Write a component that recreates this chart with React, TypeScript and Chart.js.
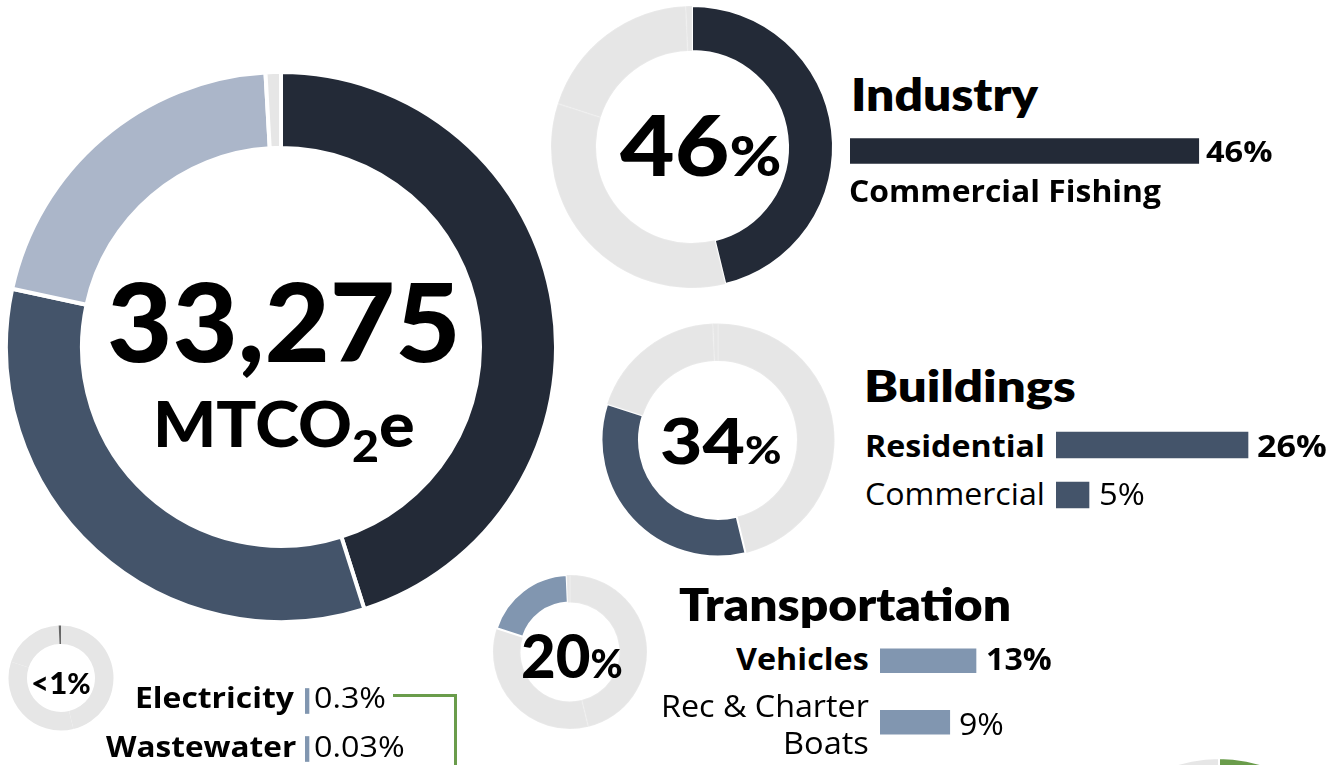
import React, { useEffect, useRef } from 'react';
import { Chart, registerables } from 'chart.js';

Chart.register(...registerables);

// ---------- data ----------
const sectorNames = ['Industry', 'Buildings', 'Transportation', 'Other'];
// shares as drawn in the large overview ring
const overviewShares = [45.1, 33.3, 20.7, 0.9];
// shares as drawn in the small per-sector rings
const sectorShares = [46.2, 33.8, 19.3, 0.7];
const sectorColors = ['#232a37', '#44546a', '#abb6c9', '#e6e6e6'];
const sectorHighlight = ['#232a37', '#44546a', '#8196b0', '#666666'];
const sectorPctText = ['46', '34', '20', '<1'];

const industryCats = ['Commercial Fishing'];
const industryVals = [46.5];
const industryText = ['46%'];

const buildingCats = ['Residential', 'Commercial'];
const buildingVals = [25.6, 4.4];
const buildingText = ['26%', '5%'];

const transportCats = ['Vehicles', 'Rec & Charter Boats'];
const transportVals = [12.8, 9.3];
const transportText = ['13%', '9%'];

const otherCats = ['Electricity', 'Wastewater'];
const otherVals = [0.3, 0.03];
const otherText = ['0.3%', '0.03%'];

const sinkNames = ['Sequestration', 'Rest'];
const sinkShares = [25, 75];

const TOTAL_TEXT = '33,275';

// ---------- style constants ----------
const GRAY = '#e6e6e6';
const GREEN = '#6a9c4b';
const BAR_BLUE = '#8196b0';
const PX_PER_PCT = 7.5;
const OPEN = '"Open Sans", "Noto Sans", sans-serif';
const HEAD = 'Lato, "Open Sans", sans-serif';

type DonutSpec = {
  cx: number; cy: number; outer: number; inner: number; bw: number;
  data: number[]; labels: string[]; colors: string[]; borders: string[];
};

function highlightColors(idx: number) {
  return sectorShares.map((_, i) => (i === idx ? sectorHighlight[i] : GRAY));
}
function highlightBorders(idx: number) {
  return sectorShares.map((_, i) => (i === idx ? '#ffffff' : 'rgba(255,255,255,0.12)'));
}

const donuts: DonutSpec[] = [
  { cx: 280.5, cy: 346.5, outer: 273, inner: 201, bw: 4, data: overviewShares, labels: sectorNames, colors: sectorColors, borders: overviewShares.map(() => '#ffffff') },
  { cx: 691.5, cy: 146.5, outer: 140, inner: 97, bw: 2, data: sectorShares, labels: sectorNames, colors: highlightColors(0), borders: highlightBorders(0) },
  { cx: 717.5, cy: 440, outer: 115.5, inner: 80, bw: 2, data: sectorShares, labels: sectorNames, colors: highlightColors(1), borders: highlightBorders(1) },
  { cx: 569.5, cy: 652, outer: 76, inner: 50.5, bw: 2, data: sectorShares, labels: sectorNames, colors: highlightColors(2), borders: highlightBorders(2) },
  { cx: 60.5, cy: 678, outer: 52.5, inner: 34, bw: 0, data: sectorShares, labels: sectorNames, colors: highlightColors(3), borders: highlightBorders(3) },
  { cx: 1219, cy: 899, outer: 140, inner: 97, bw: 2, data: sinkShares, labels: sinkNames, colors: [GREEN, GRAY], borders: ['#ffffff', '#ffffff'] },
];

type BarSpec = { left: number; top: number; height: number; thick: number; cats: string[]; vals: number[]; color: string };
const BAR_W = 420;
const bars: BarSpec[] = [
  { left: 850, top: 126, height: 50, thick: 25, cats: industryCats, vals: industryVals, color: '#232a37' },
  { left: 1056, top: 420, height: 100, thick: 26, cats: buildingCats, vals: buildingVals, color: '#44546a' },
  { left: 880, top: 630, height: 123, thick: 24, cats: transportCats, vals: transportVals, color: BAR_BLUE },
  { left: 305, top: 677, height: 96, thick: 25, cats: otherCats, vals: otherVals, color: BAR_BLUE },
];

function donutSize(d: DonutSpec) {
  return 2 * Math.ceil(d.outer + d.bw + 2);
}

// ---------- text ----------
function T(props: { l: number; r: number; base: number; size: number; w?: number; f?: string; children: React.ReactNode }) {
  const { l, r, base, size, w = 700, f = OPEN, children } = props;
  const b = 0.04 * size;
  return (
    <div
      style={{
        position: 'absolute', left: l - b, top: base - 0.887 * size, fontSize: size, lineHeight: 1,
        fontFamily: f, fontWeight: w, whiteSpace: 'nowrap', color: '#000',
      }}
    >
      <span data-fit={r - l + 2 * b} style={{ display: 'inline-block', transformOrigin: 'left center' }}>
        {children}
      </span>
    </div>
  );
}

export default function App() {
  const donutRefs = useRef<(HTMLCanvasElement | null)[]>([]);
  const barRefs = useRef<(HTMLCanvasElement | null)[]>([]);

  useEffect(() => {
    document.body.style.margin = '0';
    const charts: Chart[] = [];
    donuts.forEach((d, i) => {
      const c = donutRefs.current[i];
      if (!c) return;
      const radius = d.outer + d.bw / 2;
      const inner = d.inner - d.bw / 2;
      charts.push(
        new Chart(c, {
          type: 'doughnut',
          data: {
            labels: d.labels,
            datasets: [{
              data: d.data, backgroundColor: d.colors, borderColor: d.borders,
              borderWidth: d.bw, hoverOffset: 0, hoverBorderWidth: d.bw,
            }],
          },
          options: {
            responsive: false, animation: false, events: [],
            radius, cutout: (inner / radius) * 100 + '%',
            layout: { padding: 0 },
            plugins: { legend: { display: false }, tooltip: { enabled: false } },
          } as any,
        })
      );
    });
    bars.forEach((b, i) => {
      const c = barRefs.current[i];
      if (!c) return;
      charts.push(
        new Chart(c, {
          type: 'bar',
          data: {
            labels: b.cats,
            datasets: [{ data: b.vals, backgroundColor: b.color, barThickness: b.thick, minBarLength: 4, borderWidth: 0 }],
          },
          options: {
            indexAxis: 'y', responsive: false, animation: false, events: [],
            layout: { padding: 0 },
            scales: {
              x: { display: false, min: 0, max: BAR_W / PX_PER_PCT },
              y: { display: false },
            },
            plugins: { legend: { display: false }, tooltip: { enabled: false } },
          },
        })
      );
    });

    const fit = () => {
      document.querySelectorAll<HTMLElement>('[data-fit]').forEach((el) => {
        const t = parseFloat(el.dataset.fit || '0');
        const w = el.offsetWidth;
        if (w > 0) el.style.transform = `scaleX(${t / w})`;
      });
    };
    fit();
    if ((document as any).fonts && (document as any).fonts.ready) (document as any).fonts.ready.then(fit);
    return () => charts.forEach((ch) => ch.destroy());
  }, []);

  return (
    <div style={{ position: 'relative', width: 1338, height: 765, overflow: 'hidden', background: '#fff' }}>
      {donuts.map((d, i) => {
        const s = donutSize(d);
        return (
          <canvas
            key={'d' + i}
            ref={(el) => { donutRefs.current[i] = el; }}
            width={s}
            height={s}
            style={{ position: 'absolute', left: d.cx - s / 2, top: d.cy - s / 2, width: s, height: s }}
          />
        );
      })}
      {bars.map((b, i) => (
        <canvas
          key={'b' + i}
          ref={(el) => { barRefs.current[i] = el; }}
          width={BAR_W}
          height={b.height}
          style={{ position: 'absolute', left: b.left, top: b.top, width: BAR_W, height: b.height }}
        />
      ))}

      {/* connector line */}
      <div style={{ position: 'absolute', left: 393, top: 694, width: 63.5, height: 3, background: GREEN }} />
      <div style={{ position: 'absolute', left: 453.5, top: 694, width: 3, height: 80, background: GREEN }} />

      {/* big donut center */}
      <T l={111} r={456} base={362} size={109} w={900} f={HEAD}>{TOTAL_TEXT}</T>
      <T l={156} r={413} base={447} size={63} w={900} f={HEAD}>
        MTCO<span style={{ fontSize: 44, position: 'relative', top: 15 }}>2</span>e
      </T>

      {/* donut percentages */}
      <T l={623} r={778} base={177} size={84} w={900} f={HEAD}>
        {sectorPctText[0]}<span style={{ fontSize: 56 }}>%</span>
      </T>
      <T l={663} r={780} base={464} size={63} w={900} f={HEAD}>
        {sectorPctText[1]}<span style={{ fontSize: 38 }}>%</span>
      </T>
      <T l={523} r={620} base={678} size={60} w={900} f={HEAD}>
        {sectorPctText[2]}<span style={{ fontSize: 39 }}>%</span>
      </T>
      <T l={32} r={89} base={694} size={31} w={900} f={HEAD}>
        {sectorPctText[3]}<span style={{ fontSize: 28 }}>%</span>
      </T>

      {/* headings */}
      <T l={853} r={1037} base={112} size={45} w={800} f={HEAD}>{sectorNames[0]}</T>
      <T l={866} r={1075} base={402} size={43} w={800} f={HEAD}>{sectorNames[1]}</T>
      <T l={681} r={1009} base={622} size={45} w={800} f={HEAD}>{sectorNames[2]}</T>

      {/* industry */}
      <T l={1207} r={1271} base={162} size={28} w={700}>{industryText[0]}</T>
      <T l={850} r={1160} base={203} size={30} w={700}>{industryCats[0]}</T>

      {/* buildings */}
      <T l={866} r={1043} base={457} size={30.5} w={700}>{buildingCats[0]}</T>
      <T l={1258} r={1325} base={457} size={30.5} w={700}>{buildingText[0]}</T>
      <T l={866} r={1043} base={505} size={31} w={400}>{buildingCats[1]}</T>
      <T l={1100} r={1143} base={505} size={31} w={400}>{buildingText[1]}</T>

      {/* transportation */}
      <T l={737} r={867} base={671} size={30} w={700}>{transportCats[0]}</T>
      <T l={987} r={1050} base={671} size={30} w={700}>{transportText[0]}</T>
      <T l={662} r={867} base={717} size={30.5} w={400}>Rec &amp; Charter</T>
      <T l={784} r={867} base={754} size={30.5} w={400}>Boats</T>
      <T l={960} r={1002} base={735} size={31} w={400}>{transportText[1]}</T>

      {/* other */}
      <T l={136} r={293} base={708} size={29} w={700}>{otherCats[0]}</T>
      <T l={315} r={385} base={708} size={29} w={400}>{otherText[0]}</T>
      <T l={107} r={295} base={757} size={29} w={700}>{otherCats[1]}</T>
      <T l={315} r={403} base={757} size={29} w={400}>{otherText[1]}</T>
    </div>
  );
}
